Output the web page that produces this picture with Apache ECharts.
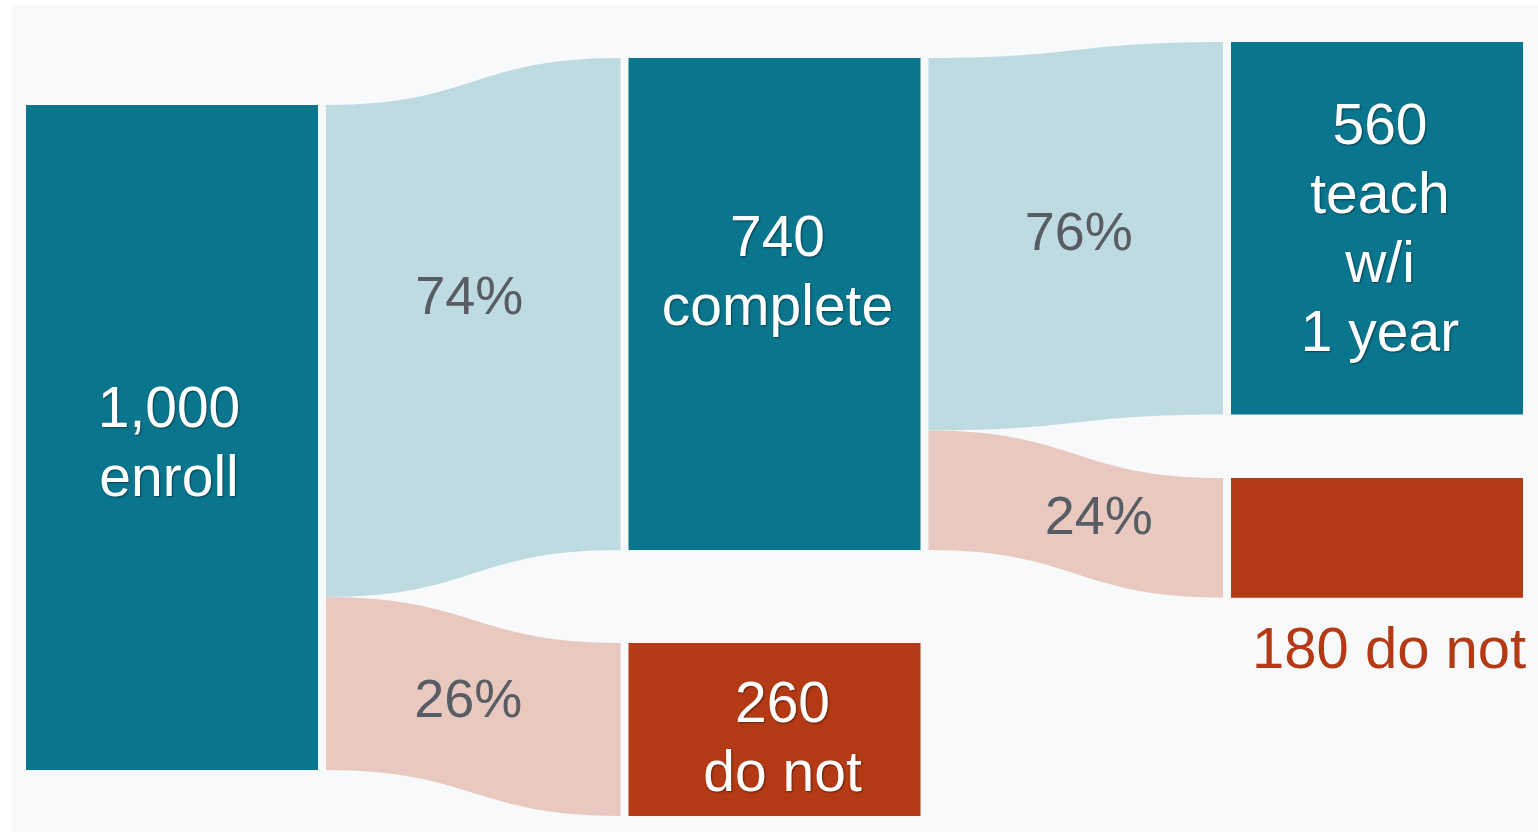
<!DOCTYPE html>
<html>
<head>
<meta charset="utf-8">
<style>
  html, body { margin: 0; padding: 0; background: #ffffff; }
  #chart { width: 1538px; height: 832px; }
</style>
<script src="https://cdn.jsdelivr.net/npm/echarts@6/dist/echarts.min.js"></script>
</head>
<body>
<div id="chart"></div>
<script>
// ---- data ----
const nodeNames  = ['1,000 enroll', '740 complete', '260 do not', '560 teach w/i 1 year', '180 do not'];
const nodeLabels = ['1,000\nenroll', '740\ncomplete', '260\ndo not', '560\nteach\nw/i\n1 year', '180 do not'];
const nodeKinds  = ['go', 'go', 'stop', 'go', 'stop'];
const linkSources = [0, 0, 1, 1];
const linkTargets = [1, 2, 3, 4];
const linkValues  = [740, 260, 560, 180];
const linkLabels  = ['74%', '26%', '76%', '24%'];

// ---- styling / layout ----
const NODE_COLOR = { go: '#0a768e', stop: '#b33a14' };
const FLOW_COLOR = { go: '#bedbe2', stop: '#e8c8bf' };
const LABEL_GRAY = '#575d63';
const FONT = '"Liberation Sans", Arial, sans-serif';
const TOP = 42, BOTTOM = 15, H = 832 - TOP - BOTTOM;
// vertical placement of nodes (top edge in px)
const nodeTops = [105, 58, 643, 42, 478];
const nodeLabelOffsets = [[-3, 8], [3, -29], [8, 11], [3, 4], null];
const edgeLabelOffsets = [[-4, -28], [-5, -4], [3, -1], [23, 5]];

const shadow = { textShadowColor: 'rgba(0,0,0,0.45)', textShadowBlur: 2, textShadowOffsetX: 1, textShadowOffsetY: 1 };

function buildNodes(visible) {
  return nodeNames.map((name, i) => {
    const n = { name: name, localY: (nodeTops[i] - TOP) / H };
    if (visible) {
      n.itemStyle = { color: NODE_COLOR[nodeKinds[i]], borderWidth: 0 };
      if (nodeLabelOffsets[i]) {
        n.label = Object.assign({
          show: true, position: 'inside', color: '#ffffff', fontSize: 57, lineHeight: 69,
          fontFamily: FONT, align: 'center', verticalAlign: 'middle',
          offset: nodeLabelOffsets[i], formatter: () => nodeLabels[i]
        }, shadow);
      } else {
        n.label = {
          show: true, position: [21, 174], align: 'left', verticalAlign: 'middle',
          color: NODE_COLOR[nodeKinds[i]], fontSize: 58, fontFamily: FONT,
          formatter: () => nodeLabels[i]
        };
      }
    } else {
      n.itemStyle = { color: 'rgba(0,0,0,0)', borderWidth: 0 };
      n.label = { show: false };
    }
    return n;
  });
}

function buildLinks(visible) {
  return linkSources.map((s, i) => {
    const l = { source: nodeNames[s], target: nodeNames[linkTargets[i]], value: linkValues[i] };
    if (visible) {
      l.lineStyle = { color: FLOW_COLOR[nodeKinds[linkTargets[i]]], opacity: 1, curveness: 0.5 };
      l.edgeLabel = {
        show: true, color: LABEL_GRAY, fontSize: 54, fontFamily: FONT,
        offset: edgeLabelOffsets[i], formatter: () => linkLabels[i]
      };
    } else {
      l.lineStyle = { opacity: 0 };
      l.edgeLabel = { show: false };
    }
    return l;
  });
}

const common = {
  type: 'sankey',
  nodeAlign: 'left',
  layoutIterations: 0,
  nodeGap: 110,
  top: TOP,
  bottom: BOTTOM,
  draggable: false,
  emphasis: { disabled: true },
  silent: true,
  label: { show: false },
  animation: false
};

const chart = echarts.init(document.getElementById('chart'), null, { renderer: 'canvas' });
chart.setOption({
  animation: false,
  backgroundColor: 'transparent',
  graphic: [{
    type: 'rect', left: 12, top: 5, z: -10,
    shape: { width: 1526, height: 827 },
    style: { fill: '#f8f9fb' }
  }],
  series: [
    Object.assign({}, common, {
      left: 18, right: 7, nodeWidth: 308,
      data: buildNodes(false), links: buildLinks(true), z: 1
    }),
    Object.assign({}, common, {
      left: 26, right: 15, nodeWidth: 292,
      data: buildNodes(true), links: buildLinks(false), z: 2
    })
  ]
});
</script>
</body>
</html>
